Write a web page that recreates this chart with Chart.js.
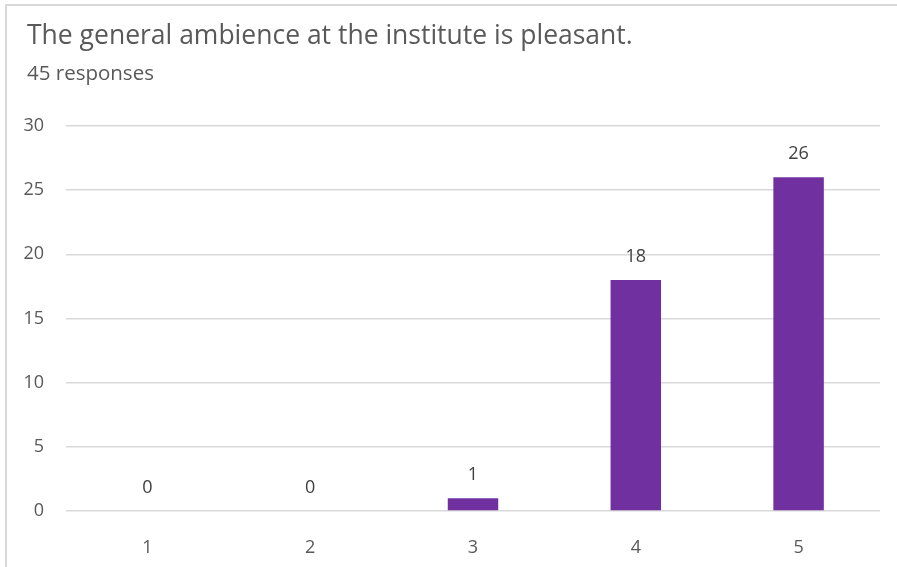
<!DOCTYPE html>
<html>
<head>
<meta charset="utf-8">
<script src="https://cdn.jsdelivr.net/npm/chart.js@4.4.0/dist/chart.umd.min.js"></script>
<style>
  html, body { margin: 0; padding: 0; background: #fff; }
  #wrap { position: relative; width: 897px; height: 567px; overflow: hidden; }
  #frame { position: absolute; left: 5px; top: 4px; width: 900px; height: 570px;
           border-left: 2px solid #d9d9d9; border-top: 2px solid #d9d9d9; pointer-events: none; }
  #title { position: absolute; left: 27px; top: 16px; font-family: "Open Sans", sans-serif;
           font-size: 26.5px; color: #595959; white-space: nowrap; }
  #subtitle { position: absolute; left: 27px; top: 58px; font-family: "Open Sans", sans-serif;
           font-size: 20.5px; color: #595959; white-space: nowrap; }
  canvas { position: absolute; left: 0; top: 0; }
</style>
</head>
<body>
<div id="wrap">
  <canvas id="c" width="897" height="567"></canvas>
  <div id="frame"></div>
  <div id="title">The general ambience at the institute is pleasant.</div>
  <div id="subtitle">45 responses</div>
</div>
<script>
const categories = ["1", "2", "3", "4", "5"];
const responses = [0, 0, 1, 18, 26];
const yTicks = [0, 5, 10, 15, 20, 25, 30];

const valueLabels = {
  id: 'valueLabels',
  afterDatasetsDraw(chart) {
    const ctx = chart.ctx;
    const meta = chart.getDatasetMeta(0);
    ctx.save();
    ctx.font = '18px "Open Sans", sans-serif';
    ctx.fillStyle = '#404040';
    ctx.textAlign = 'center';
    ctx.textBaseline = 'middle';
    meta.data.forEach((bar, i) => {
      ctx.fillText(String(responses[i]), bar.x, bar.y - 23);
    });
    ctx.restore();
  }
};

new Chart(document.getElementById('c'), {
  type: 'bar',
  data: {
    labels: categories,
    datasets: [{
      data: responses,
      backgroundColor: '#7030a0',
      borderWidth: 0,
      categoryPercentage: 1,
      barPercentage: 0.31
    }]
  },
  options: {
    responsive: false,
    animation: false,
    devicePixelRatio: 1,
    layout: { padding: { left: 0, right: 17, top: 126, bottom: 0 } },
    plugins: { legend: { display: false }, tooltip: { enabled: false } },
    scales: {
      x: {
        grid: { display: false, drawTicks: false },
        border: { display: false },
        ticks: { padding: 26, color: '#595959', font: { family: '"Open Sans", sans-serif', size: 18 } },
        afterFit(s) { s.height = 56; }
      },
      y: {
        min: 0, max: 30,
        afterBuildTicks(s) { s.ticks = yTicks.map(v => ({ value: v })); },
        grid: { color: '#d9d9d9', lineWidth: 1.5, drawTicks: false },
        border: { display: false },
        ticks: { padding: 22, color: '#595959', font: { family: '"Open Sans", sans-serif', size: 18 } },
        afterFit(s) { s.width = 66; }
      }
    }
  },
  plugins: [valueLabels]
});
</script>
</body>
</html>
